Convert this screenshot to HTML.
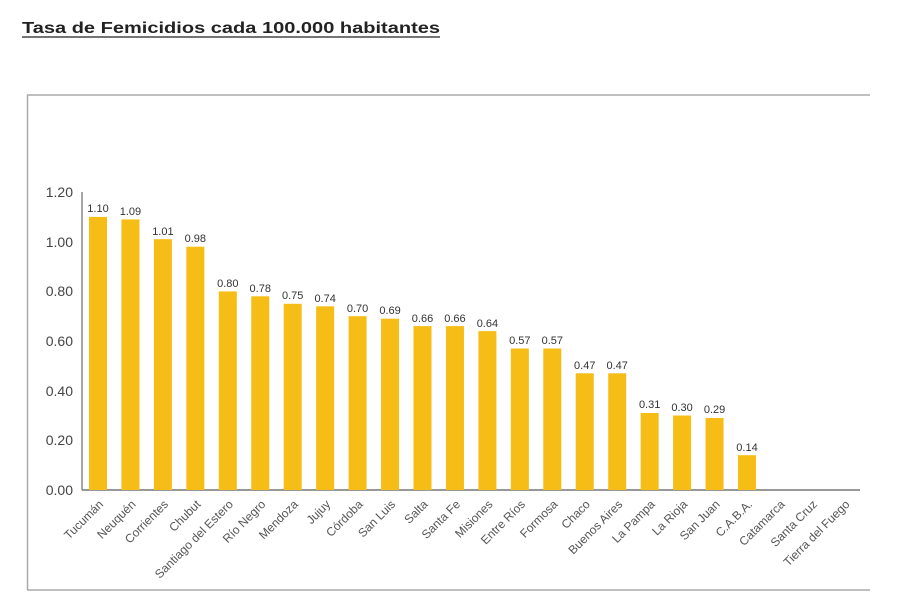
<!DOCTYPE html>
<html><head><meta charset="utf-8"><style>
html,body{margin:0;padding:0;background:#fff;}
svg{display:block;font-family:"Liberation Sans",sans-serif;}
</style></head><body>
<svg width="900" height="600" viewBox="0 0 900 600" xmlns="http://www.w3.org/2000/svg">
<text x="22" y="33" font-size="16" font-weight="bold" fill="#222" textLength="418" lengthAdjust="spacingAndGlyphs">Tasa de Femicidios cada 100.000 habitantes</text>
<line x1="22" y1="37" x2="440" y2="37" stroke="#222" stroke-width="1.2"/>
<line x1="27" y1="95" x2="870" y2="95" stroke="#aaa" stroke-width="1.5"/>
<line x1="27.5" y1="95" x2="27.5" y2="590" stroke="#aaa" stroke-width="1.5"/>
<line x1="27" y1="590" x2="870" y2="590" stroke="#aaa" stroke-width="1.5"/>
<line x1="82" y1="192" x2="82" y2="490" stroke="#888" stroke-width="1.5"/>
<line x1="82" y1="490" x2="860" y2="490" stroke="#777" stroke-width="1.5"/>
<g font-size="14" fill="#444" text-anchor="end">
<text x="73" y="197">1.20</text><text x="73" y="247">1.00</text><text x="73" y="296">0.80</text>
<text x="73" y="346">0.60</text><text x="73" y="396">0.40</text><text x="73" y="445">0.20</text><text x="73" y="495">0.00</text>
</g>
<g fill="#f6bd16">
<rect x="89" y="216.9" width="18" height="273.1"/>
<rect x="121.45" y="219.4" width="18" height="270.6"/>
<rect x="153.9" y="239.2" width="18" height="250.8"/>
<rect x="186.35" y="246.7" width="18" height="243.3"/>
<rect x="218.8" y="291.4" width="18" height="198.6"/>
<rect x="251.25" y="296.3" width="18" height="193.7"/>
<rect x="283.7" y="303.8" width="18" height="186.2"/>
<rect x="316.15" y="306.3" width="18" height="183.7"/>
<rect x="348.6" y="316.2" width="18" height="173.8"/>
<rect x="381.05" y="318.7" width="18" height="171.3"/>
<rect x="413.5" y="326.1" width="18" height="163.9"/>
<rect x="445.95" y="326.1" width="18" height="163.9"/>
<rect x="478.4" y="331.1" width="18" height="158.9"/>
<rect x="510.85" y="348.5" width="18" height="141.5"/>
<rect x="543.3" y="348.5" width="18" height="141.5"/>
<rect x="575.75" y="373.3" width="18" height="116.7"/>
<rect x="608.2" y="373.3" width="18" height="116.7"/>
<rect x="640.65" y="413" width="18" height="77"/>
<rect x="673.1" y="415.5" width="18" height="74.5"/>
<rect x="705.55" y="418" width="18" height="72"/>
<rect x="738" y="455.2" width="18" height="34.8"/>
</g>
<g font-size="11" fill="#333" text-anchor="middle">
<text x="98" y="212">1.10</text><text x="130.45" y="215">1.09</text><text x="162.9" y="235">1.01</text>
<text x="195.35" y="242">0.98</text><text x="227.8" y="287">0.80</text><text x="260.25" y="292">0.78</text>
<text x="292.7" y="299">0.75</text><text x="325.15" y="302">0.74</text><text x="357.6" y="312">0.70</text>
<text x="390.05" y="314">0.69</text><text x="422.5" y="322">0.66</text><text x="454.95" y="322">0.66</text>
<text x="487.4" y="327">0.64</text><text x="519.85" y="344">0.57</text><text x="552.3" y="344">0.57</text>
<text x="584.75" y="369">0.47</text><text x="617.2" y="369">0.47</text><text x="649.65" y="408">0.31</text>
<text x="682.1" y="411">0.30</text><text x="714.55" y="413">0.29</text><text x="747" y="451">0.14</text>
</g>
<g font-size="12" fill="#555" text-anchor="end">
<text transform="translate(104,505) rotate(-45)">Tucumán</text>
<text transform="translate(136.45,505) rotate(-45)">Neuquén</text>
<text transform="translate(168.9,505) rotate(-45)">Corrientes</text>
<text transform="translate(201.35,505) rotate(-45)">Chubut</text>
<text transform="translate(233.8,505) rotate(-45)">Santiago del Estero</text>
<text transform="translate(266.25,505) rotate(-45)">Río Negro</text>
<text transform="translate(298.7,505) rotate(-45)">Mendoza</text>
<text transform="translate(331.15,505) rotate(-45)">Jujuy</text>
<text transform="translate(363.6,505) rotate(-45)">Córdoba</text>
<text transform="translate(396.05,505) rotate(-45)">San Luis</text>
<text transform="translate(428.5,505) rotate(-45)">Salta</text>
<text transform="translate(460.95,505) rotate(-45)">Santa Fe</text>
<text transform="translate(493.4,505) rotate(-45)">Misiones</text>
<text transform="translate(525.85,505) rotate(-45)">Entre Ríos</text>
<text transform="translate(558.3,505) rotate(-45)">Formosa</text>
<text transform="translate(590.75,505) rotate(-45)">Chaco</text>
<text transform="translate(623.2,505) rotate(-45)">Buenos Aires</text>
<text transform="translate(655.65,505) rotate(-45)">La Pampa</text>
<text transform="translate(688.1,505) rotate(-45)">La Rioja</text>
<text transform="translate(720.55,505) rotate(-45)">San Juan</text>
<text transform="translate(753,505) rotate(-45)">C.A.B.A.</text>
<text transform="translate(785.45,505) rotate(-45)">Catamarca</text>
<text transform="translate(817.9,505) rotate(-45)">Santa Cruz</text>
<text transform="translate(850.35,505) rotate(-45)">Tierra del Fuego</text>
</g>
<rect x="0" y="591" width="900" height="9" fill="#fff"/>
</svg>
</body></html>
